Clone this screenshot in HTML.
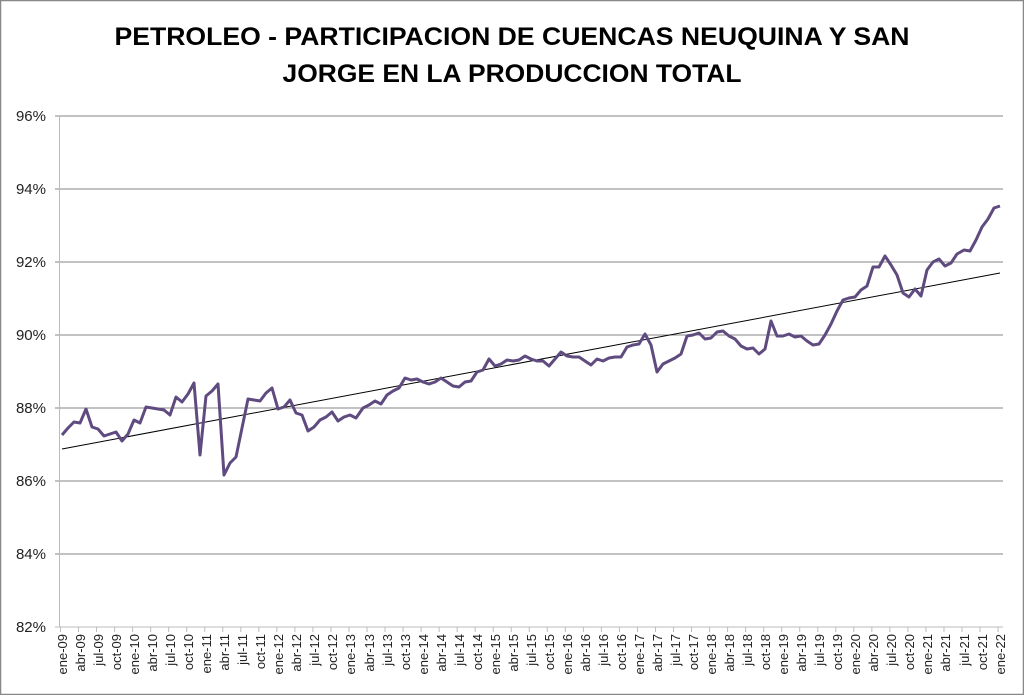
<!DOCTYPE html>
<html><head><meta charset="utf-8"><style>
body{margin:0;background:#fff;}
svg{display:block;font-family:"Liberation Sans",sans-serif;}
</style></head><body>
<svg width="1024" height="695" viewBox="0 0 1024 695" xmlns="http://www.w3.org/2000/svg">
<defs><pattern id="tk" x="60" y="0" width="18.03" height="10" patternUnits="userSpaceOnUse"><rect x="0" y="0" width="1" height="10" fill="#bbb"/></pattern></defs>
<rect x="0.5" y="0.5" width="1023" height="694" fill="#fff" stroke="#888" stroke-width="1.5"/>
<text x="512" y="45" text-anchor="middle" font-size="25" font-weight="bold" textLength="795" lengthAdjust="spacingAndGlyphs">PETROLEO - PARTICIPACION DE CUENCAS NEUQUINA Y SAN</text>
<text x="512" y="82" text-anchor="middle" font-size="25" font-weight="bold" textLength="459" lengthAdjust="spacingAndGlyphs">JORGE EN LA PRODUCCION TOTAL</text>
<g stroke="#868686" stroke-width="1">
<line x1="55" y1="116" x2="1003" y2="116"/>
<line x1="55" y1="189" x2="1003" y2="189"/>
<line x1="55" y1="262" x2="1003" y2="262"/>
<line x1="55" y1="335" x2="1003" y2="335"/>
<line x1="55" y1="408" x2="1003" y2="408"/>
<line x1="55" y1="481" x2="1003" y2="481"/>
<line x1="55" y1="554" x2="1003" y2="554"/>
</g>
<line x1="55" y1="627" x2="1003" y2="627" stroke="#bbb"/>
<line x1="59.5" y1="116" x2="59.5" y2="627" stroke="#bbb"/>
<rect x="60" y="627" width="945" height="5" fill="url(#tk)"/>
<g font-size="15" fill="#222" text-anchor="end">
<text x="46" y="121">96%</text><text x="46" y="194">94%</text><text x="46" y="267">92%</text><text x="46" y="340">90%</text>
<text x="46" y="413">88%</text><text x="46" y="486">86%</text><text x="46" y="559">84%</text><text x="46" y="632">82%</text>
</g>
<line x1="62" y1="449" x2="1000" y2="273" stroke="#000" stroke-width="1"/>
<polyline fill="none" stroke="#5f4b7f" stroke-width="3" stroke-linejoin="round" points="62,435 68,428 74,422 80,423 86,409 92,427 98,429 104,436 110,434 116,432 122,441 128,434 134,420 140,423 146,407 152,408 158,409 164,410 170,415 176,397 182,402 188,394 194,383 200,455 206,396 212,391 218,384 224,475 230,463 236,457 242,428 248,399 254,400 260,401 266,393 272,388 278,409 284,407 290,400 296,413 302,415 308,431 314,427 320,420 326,417 332,412 338,421 344,417 350,415 356,418 363,408 369,405 375,401 381,404 387,395 393,391 399,388 405,378 411,380 417,379 423,382 429,384 435,382 441,378 447,382 453,386 459,387 465,382 471,381 477,372 483,370 489,359 495,366 501,364 507,360 513,361 519,360 525,356 531,359 537,361 543,361 549,366 555,359 561,352 567,356 573,357 579,357 585,361 591,365 597,359 603,361 609,358 615,357 621,357 627,347 633,345 639,344 645,334 651,345 657,372 663,364 669,361 675,358 681,354 687,336 693,335 699,333 705,339 711,338 717,332 723,331 729,336 735,339 741,346 747,349 753,348 759,354 765,349 771,321 777,336 783,336 789,334 795,337 801,336 807,341 813,345 819,344 825,335 831,324 837,311 843,300 849,298 855,297 861,290 867,286 873,267 879,267 885,256 891,265 897,275 903,293 909,297 915,289 921,296 927,270 933,262 939,259 945,266 951,263 957,254 964,250 970,251 976,240 982,227 988,219 994,208 1000,206"/>
<g font-size="13" fill="#222" text-anchor="end">
<text transform="translate(67,634) rotate(-90)">ene-09</text>
<text transform="translate(85,634) rotate(-90)">abr-09</text>
<text transform="translate(103,634) rotate(-90)">jul-09</text>
<text transform="translate(121,634) rotate(-90)">oct-09</text>
<text transform="translate(139,634) rotate(-90)">ene-10</text>
<text transform="translate(157,634) rotate(-90)">abr-10</text>
<text transform="translate(175,634) rotate(-90)">jul-10</text>
<text transform="translate(193,634) rotate(-90)">oct-10</text>
<text transform="translate(211,634) rotate(-90)">ene-11</text>
<text transform="translate(229,634) rotate(-90)">abr-11</text>
<text transform="translate(247,634) rotate(-90)">jul-11</text>
<text transform="translate(265,634) rotate(-90)">oct-11</text>
<text transform="translate(283,634) rotate(-90)">ene-12</text>
<text transform="translate(301,634) rotate(-90)">abr-12</text>
<text transform="translate(319,634) rotate(-90)">jul-12</text>
<text transform="translate(337,634) rotate(-90)">oct-12</text>
<text transform="translate(355,634) rotate(-90)">ene-13</text>
<text transform="translate(374,634) rotate(-90)">abr-13</text>
<text transform="translate(392,634) rotate(-90)">jul-13</text>
<text transform="translate(410,634) rotate(-90)">oct-13</text>
<text transform="translate(428,634) rotate(-90)">ene-14</text>
<text transform="translate(446,634) rotate(-90)">abr-14</text>
<text transform="translate(464,634) rotate(-90)">jul-14</text>
<text transform="translate(482,634) rotate(-90)">oct-14</text>
<text transform="translate(500,634) rotate(-90)">ene-15</text>
<text transform="translate(518,634) rotate(-90)">abr-15</text>
<text transform="translate(536,634) rotate(-90)">jul-15</text>
<text transform="translate(554,634) rotate(-90)">oct-15</text>
<text transform="translate(572,634) rotate(-90)">ene-16</text>
<text transform="translate(590,634) rotate(-90)">abr-16</text>
<text transform="translate(608,634) rotate(-90)">jul-16</text>
<text transform="translate(626,634) rotate(-90)">oct-16</text>
<text transform="translate(644,634) rotate(-90)">ene-17</text>
<text transform="translate(662,634) rotate(-90)">abr-17</text>
<text transform="translate(680,634) rotate(-90)">jul-17</text>
<text transform="translate(698,634) rotate(-90)">oct-17</text>
<text transform="translate(716,634) rotate(-90)">ene-18</text>
<text transform="translate(734,634) rotate(-90)">abr-18</text>
<text transform="translate(752,634) rotate(-90)">jul-18</text>
<text transform="translate(770,634) rotate(-90)">oct-18</text>
<text transform="translate(788,634) rotate(-90)">ene-19</text>
<text transform="translate(806,634) rotate(-90)">abr-19</text>
<text transform="translate(824,634) rotate(-90)">jul-19</text>
<text transform="translate(842,634) rotate(-90)">oct-19</text>
<text transform="translate(860,634) rotate(-90)">ene-20</text>
<text transform="translate(878,634) rotate(-90)">abr-20</text>
<text transform="translate(896,634) rotate(-90)">jul-20</text>
<text transform="translate(914,634) rotate(-90)">oct-20</text>
<text transform="translate(932,634) rotate(-90)">ene-21</text>
<text transform="translate(950,634) rotate(-90)">abr-21</text>
<text transform="translate(969,634) rotate(-90)">jul-21</text>
<text transform="translate(987,634) rotate(-90)">oct-21</text>
<text transform="translate(1005,634) rotate(-90)">ene-22</text>
</g>
</svg>
</body></html>
